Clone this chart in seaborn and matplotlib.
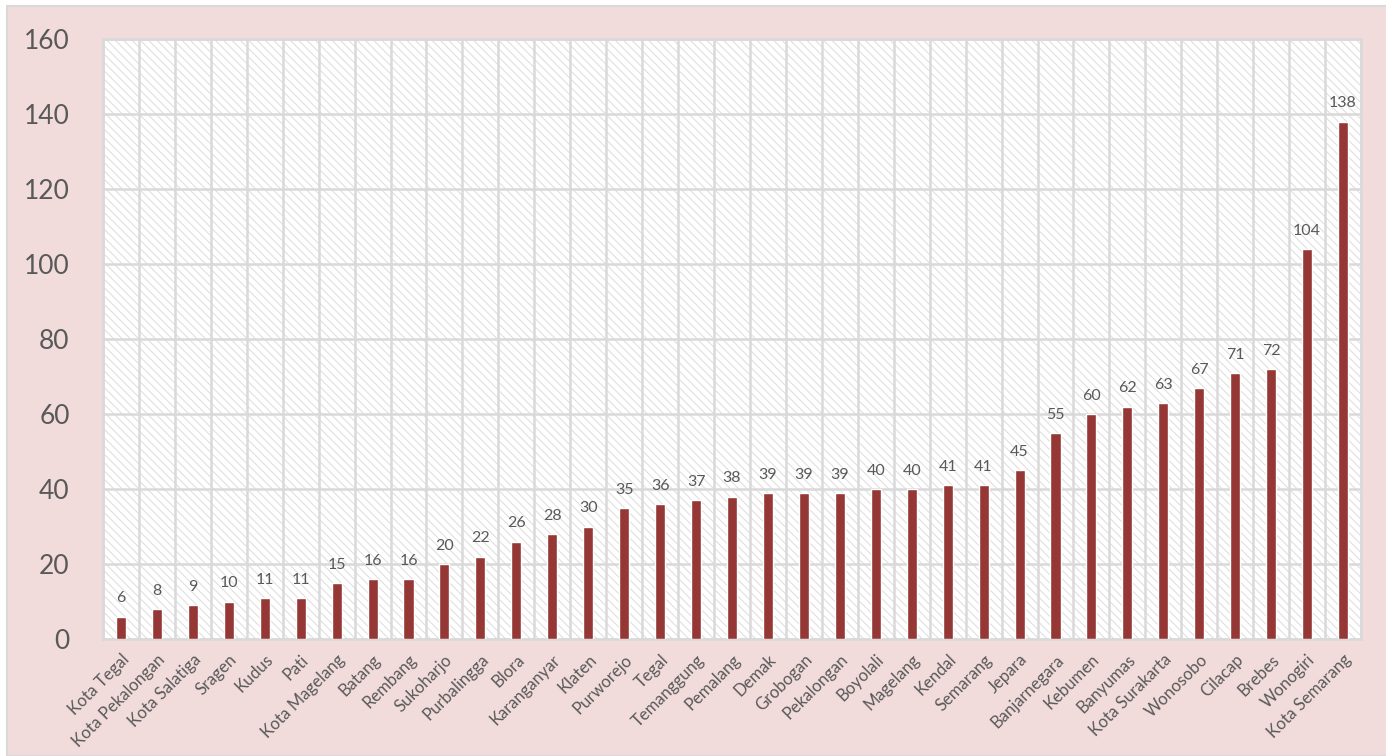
import numpy as np
import matplotlib
matplotlib.use("Agg")
import matplotlib.pyplot as plt
import seaborn as sns
from matplotlib.patches import Rectangle

# Data
regions = ["Kota Tegal", "Kota Pekalongan", "Kota Salatiga", "Sragen", "Kudus", "Pati",
           "Kota Magelang", "Batang", "Rembang", "Sukoharjo", "Purbalingga", "Blora",
           "Karanganyar", "Klaten", "Purworejo", "Tegal", "Temanggung", "Pemalang",
           "Demak", "Grobogan", "Pekalongan", "Boyolali", "Magelang", "Kendal",
           "Semarang", "Jepara", "Banjarnegara", "Kebumen", "Banyumas", "Kota Surakarta",
           "Wonosobo", "Cilacap", "Brebes", "Wonogiri", "Kota Semarang"]
counts = [6, 8, 9, 10, 11, 11, 15, 16, 16, 20, 22, 26, 28, 30, 35, 36, 37, 38,
          39, 39, 39, 40, 40, 41, 41, 45, 55, 60, 62, 63, 67, 71, 72, 104, 138]
y_ticks = [0, 20, 40, 60, 80, 100, 120, 140, 160]

pink = "#f2dcdb"
bar_color = "#953735"
grid_color = "#d9d9d9"
text_color = "#595959"

sns.set_style("white")
plt.rcParams["font.family"] = ["Lato", "DejaVu Sans"]
plt.rcParams["hatch.linewidth"] = 0.7

fig = plt.figure(figsize=(13.86, 7.56), dpi=100)
fig.patch.set_facecolor("white")
# pink chart area with grey border
fig.patches.append(Rectangle((7 / 1386, 0), 1.01, (756 - 6) / 756, transform=fig.transFigure,
                             facecolor=pink, edgecolor=grid_color, linewidth=1.5, zorder=-10))

ax = fig.add_axes([103 / 1386, 1 - 639 / 756, (1361 - 103) / 1386, (639 - 39) / 756])
ax.set_facecolor("white")
ax.add_patch(Rectangle((0, 0), 1, 1, transform=ax.transAxes, facecolor="white",
                       edgecolor="#dcdcdc", hatch="\\\\\\\\", linewidth=0, zorder=0))

sns.barplot(x=regions, y=counts, color=bar_color, width=0.28, saturation=1, ax=ax, zorder=3)
ax.bar_label(ax.containers[0], padding=8, fontsize=11.5, color=text_color)

ax.set_xlim(-0.5, len(regions) - 0.5)
ax.set_ylim(0, 160)
ax.set_yticks(y_ticks)
ax.set_xticks(np.arange(-0.5, len(regions), 1), minor=True)
ax.grid(True, which="minor", axis="x", color=grid_color, linewidth=1.8, zorder=1)
ax.grid(True, which="major", axis="y", color=grid_color, linewidth=1.8, zorder=1)
ax.set_axisbelow(True)
for s in ax.spines.values():
    s.set_color(grid_color)
    s.set_linewidth(1.8)

ax.tick_params(axis="y", length=0, pad=24, labelsize=19, labelcolor=text_color)
ax.tick_params(axis="x", which="both", length=0, pad=9, labelsize=12, labelcolor=text_color)
plt.setp(ax.get_xticklabels(), rotation=45, ha="right", rotation_mode="anchor")
ax.set_xlabel("")
ax.set_ylabel("")

fig.savefig("out.png", dpi=100)
